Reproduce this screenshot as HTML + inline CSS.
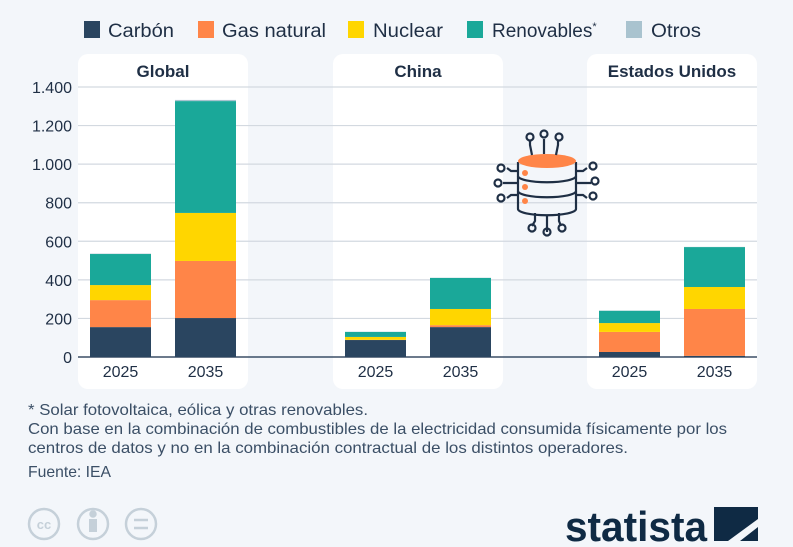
<!DOCTYPE html>
<html><head><meta charset="utf-8"><style>
body{margin:0;background:#f3f6fa;}
svg{display:block;font-family:"Liberation Sans",sans-serif;}
</style></head><body>
<svg id="chart" width="793" height="547" viewBox="0 0 793 547" xmlns="http://www.w3.org/2000/svg">
<rect x="0" y="0" width="793" height="547" fill="#f3f6fa"/>
<g font-size="19" fill="#1f2f45">
 <g><rect x="84" y="21" width="16" height="17" fill="#2a4560"/><text x="108" y="37" textLength="66" lengthAdjust="spacingAndGlyphs">Carbón</text></g>
 <g><rect x="198" y="21" width="16" height="17" fill="#ff8548"/><text x="222" y="37" textLength="104" lengthAdjust="spacingAndGlyphs">Gas natural</text></g>
 <g><rect x="348" y="21" width="16" height="17" fill="#ffd600"/><text x="373" y="37" textLength="70" lengthAdjust="spacingAndGlyphs">Nuclear</text></g>
 <g><rect x="467" y="21" width="16" height="17" fill="#1aa899"/><text x="492" y="37">Renovables<tspan font-size="11" dy="-7">*</tspan></text></g>
 <g><rect x="626" y="21" width="16" height="17" fill="#a9c3cf"/><text x="651" y="37" textLength="50" lengthAdjust="spacingAndGlyphs">Otros</text></g>
</g>
<g id="panels"></g>
<g id="grid"></g>
<g id="bars"></g>
<g stroke="#1f2f45" stroke-width="2.2" fill="none">
 <path d="M518 162 v47 a28 6 0 0 0 58 0 v-47"/>
 <path d="M518 176 a28 6 0 0 0 58 0 M518 191 a28 6 0 0 0 58 0"/>
 <ellipse cx="547" cy="161" rx="29" ry="7" fill="#ff8548" stroke="none"/>
 <circle cx="525" cy="173" r="3" fill="#ff8548" stroke="none"/><circle cx="525" cy="187" r="3" fill="#ff8548" stroke="none"/><circle cx="525" cy="201" r="3" fill="#ff8548" stroke="none"/>
 <path d="M544 154 v-15 M532 155 l-2 -10 v-5 M556 155 l2 -10 v-5"/>
 <circle cx="544" cy="134" r="3.5"/><circle cx="530" cy="137" r="3.5"/><circle cx="559" cy="137" r="3.5"/>
 <path d="M547 215 v17 M535 213 v8 l-3 5 M559 213 v8 l2 5"/>
 <circle cx="547" cy="232" r="3.5"/><circle cx="532" cy="228" r="3.5"/><circle cx="562" cy="228" r="3.5"/>
 <path d="M518 171 h-7 l-4 -3 M518 183 h-15 M518 195 h-7 l-4 3"/>
 <circle cx="501" cy="168" r="3.5"/><circle cx="498" cy="183" r="3.5"/><circle cx="501" cy="198" r="3.5"/>
 <path d="M576 171 h7 l4 -3 M576 183 h15 M576 195 h7 l4 3"/>
 <circle cx="593" cy="166" r="3.5"/><circle cx="595" cy="181" r="3.5"/><circle cx="593" cy="196" r="3.5"/>
</g>
<g font-size="16" fill="#3b4f66">
 <text x="28" y="415" textLength="340" lengthAdjust="spacingAndGlyphs">* Solar fotovoltaica, eólica y otras renovables.</text>
 <text x="28" y="434" textLength="699" lengthAdjust="spacingAndGlyphs">Con base en la combinación de combustibles de la electricidad consumida físicamente por los</text>
 <text x="28" y="453" textLength="600" lengthAdjust="spacingAndGlyphs">centros de datos y no en la combinación contractual de los distintos operadores.</text>
 <text x="28" y="477" textLength="83" lengthAdjust="spacingAndGlyphs">Fuente: IEA</text>
</g>
<g stroke="#c5d0d9" stroke-width="2.5" fill="none">
 <circle cx="44" cy="524" r="15"/><text x="44" y="529" font-size="13" font-weight="bold" fill="#c5d0d9" stroke="none" text-anchor="middle">cc</text>
 <circle cx="93" cy="524" r="15"/><circle cx="93" cy="514" r="2.5" fill="#c5d0d9"/><rect x="89" y="519" width="8" height="13" fill="#c5d0d9" stroke="none"/>
 <circle cx="141" cy="524" r="15"/><path d="M134 520 h14 M134 528 h14"/>
</g>
<g>
 <text x="565" y="541" font-size="42" font-weight="bold" fill="#0f2a44" textLength="142" lengthAdjust="spacingAndGlyphs">statista</text>
 <path d="M714 507 h44 v12 l-30 22 h-14 z" fill="#0f2a44"/><path d="M740 541 h18 v-14 z" fill="#0f2a44"/><path d="M714 507 h30 l-30 22 z" fill="#0f2a44"/>
</g>
</svg>
<script>
const groups = ["Global", "China", "Estados Unidos"];
const years = ["2025", "2035"];
const seriesNames = ["Carbón", "Gas natural", "Nuclear", "Renovables", "Otros"];
const carbon = [155, 202, 88, 155, 26, 6];
const gas = [140, 296, 1, 10, 104, 243];
const nuclear = [78, 249, 15, 84, 46, 114];
const renovables = [161, 580, 26, 161, 64, 207];
const otros = [2, 6, 1, 1, 1, 1];
const yTicks = [0, 200, 400, 600, 800, 1000, 1200, 1400];
const yTickLabels = ["0", "200", "400", "600", "800", "1.000", "1.200", "1.400"];

const NS = "http://www.w3.org/2000/svg";
const colors = ["#2a4560", "#ff8548", "#ffd600", "#1aa899", "#a9c3cf"];
const y0 = 357, y1 = 87, vMax = 1400;
function yScale(v){ return y0 - (v / vMax) * (y0 - y1); }
const panelX = [78, 333, 587], panelW = 170;
function barX(g, i){ return panelX[g] + 12 + i * 85; }
function mk(tag, attrs, parent){ const e = document.createElementNS(NS, tag); for (const k in attrs) e.setAttribute(k, attrs[k]); parent.appendChild(e); return e; }

const pG = document.getElementById("panels");
groups.forEach((g, gi) => {
  const r = mk("rect", {x: panelX[gi], y: 54, width: panelW, height: 335, rx: 10, fill: "#ffffff"}, pG);
  
  
  const t = mk("text", {x: panelX[gi] + panelW / 2, y: 77, "text-anchor": "middle", "font-size": 17, "font-weight": "bold", fill: "#1f2f45"}, pG);
  t.textContent = g;
  
  
  years.forEach((yr, yi) => {
    const l = mk("text", {x: barX(gi, yi) + 30.5, y: 377, "text-anchor": "middle", "font-size": 16, fill: "#1f2f45"}, pG);
    l.textContent = yr;
    
    
  });
});

const gG = document.getElementById("grid");
yTicks.forEach((v, i) => {
  const y = yScale(v);
  const ln = mk("line", {x1: 78, x2: 757, y1: y, y2: y, stroke: v === 0 ? "#3b4f66" : "#d3d9e0", "stroke-width": v === 0 ? 1.5 : 1.2}, gG);
  
  
  const t = mk("text", {x: 72, y: y + 6, "text-anchor": "end", "font-size": 16, fill: "#1f2f45"}, gG);
  t.textContent = yTickLabels[i];
  
  
});

const bG = document.getElementById("bars");
const series = [carbon, gas, nuclear, renovables, otros];
for (let k = 0; k < carbon.length; k++) {
  const gi = Math.floor(k / 2), yi = k % 2;
  let acc = 0;
  series.forEach((s, si) => {
    const top = yScale(acc + s[k]), bot = yScale(acc);
    const r = mk("rect", {x: barX(gi, yi), y: top, width: 61, height: Math.max(0, bot - top), fill: colors[si]}, bG);
    
    
    acc += s[k];
  });
}
</script>
</body></html>
